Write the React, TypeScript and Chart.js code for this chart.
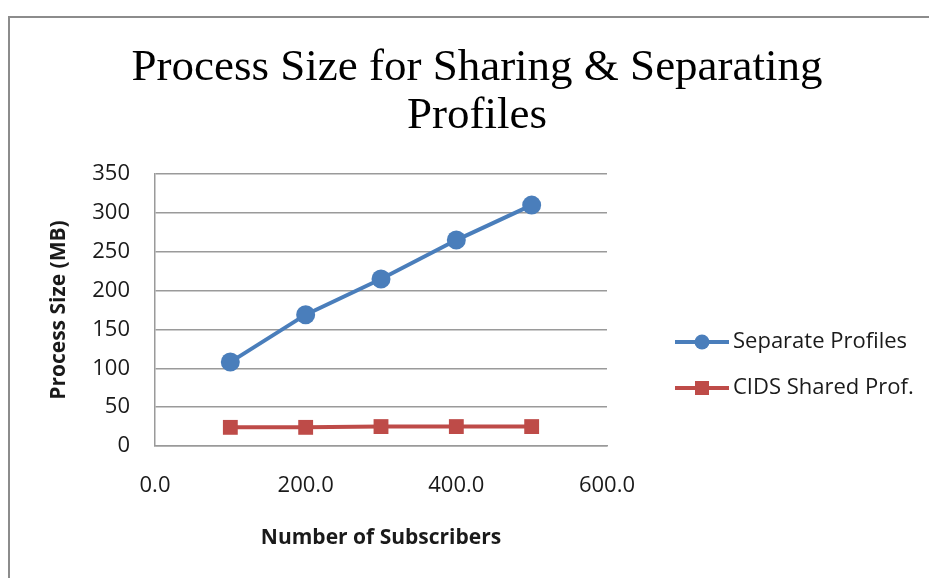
import React, { useEffect, useRef } from 'react';
import { Chart, registerables } from 'chart.js';

Chart.register(...registerables);

// ---- data ----
const subscribers = [100, 200, 300, 400, 500];
const separateProfiles = [108, 169, 215, 265, 310];
const cidsSharedProf = [24, 24, 25, 25, 25];
const seriesNames = ['Separate Profiles', 'CIDS Shared Prof.'];
const titleLines = ['Process Size for Sharing & Separating', 'Profiles'];
const xAxisTitle = 'Number of Subscribers';
const yAxisTitle = 'Process Size (MB)';
const xRange = [0, 600];
const xStep = 200;
const yRange = [0, 350];
const yStep = 50;

const BLUE = '#4A7EBB';
const RED = '#BE4B48';
const GRID = '#9a9a9a';
const TEXT = '#1a1a1a';
const SANS = '"Open Sans", "Noto Sans", sans-serif';

const framePlugin = {
  id: 'frame',
  beforeDraw(chart: any) {
    const ctx = chart.ctx;
    ctx.save();
    ctx.fillStyle = '#ffffff';
    ctx.fillRect(0, 0, chart.width, chart.height);
    ctx.strokeStyle = '#8c8c8c';
    ctx.lineWidth = 2;
    ctx.beginPath();
    ctx.moveTo(9, chart.height);
    ctx.lineTo(9, 17);
    ctx.lineTo(chart.width, 17);
    ctx.stroke();
    ctx.restore();
  },
};

const sideLegendPlugin = {
  id: 'sideLegend',
  afterDraw(chart: any) {
    const ctx = chart.ctx;
    const x0 = 675;
    const len = 54;
    const textX = 733;
    const rows = [342, 388];
    ctx.save();
    chart.data.datasets.forEach((ds: any, i: number) => {
      const y = rows[i];
      ctx.strokeStyle = ds.borderColor;
      ctx.lineWidth = ds.borderWidth;
      ctx.beginPath();
      ctx.moveTo(x0, y);
      ctx.lineTo(x0 + len, y);
      ctx.stroke();
      ctx.fillStyle = ds.pointBackgroundColor;
      const cx = x0 + len / 2;
      if (ds.pointStyle === 'rect') {
        ctx.fillRect(cx - 7, y - 7, 14, 14);
      } else {
        ctx.beginPath();
        ctx.arc(cx, y, 7.5, 0, Math.PI * 2);
        ctx.fill();
      }
      ctx.fillStyle = TEXT;
      ctx.font = `22px ${SANS}`;
      ctx.textAlign = 'left';
      ctx.textBaseline = 'middle';
      ctx.fillText(ds.label, textX, y);
    });
    ctx.restore();
  },
};

export default function App() {
  const ref = useRef<HTMLCanvasElement | null>(null);

  useEffect(() => {
    if (!ref.current) return;
    const chart = new Chart(ref.current, {
      type: 'line',
      data: {
        datasets: [
          {
            label: seriesNames[0],
            data: subscribers.map((x, i) => ({ x, y: separateProfiles[i] })),
            borderColor: BLUE,
            backgroundColor: BLUE,
            pointBackgroundColor: BLUE,
            pointBorderColor: BLUE,
            borderWidth: 4,
            pointStyle: 'circle',
            pointRadius: 9.5,
            pointBorderWidth: 0,
            tension: 0,
            clip: false,
          },
          {
            label: seriesNames[1],
            data: subscribers.map((x, i) => ({ x, y: cidsSharedProf[i] })),
            borderColor: RED,
            backgroundColor: RED,
            pointBackgroundColor: RED,
            pointBorderColor: RED,
            borderWidth: 4,
            pointStyle: 'rect',
            pointRadius: 10.5,
            pointBorderWidth: 0,
            tension: 0,
            clip: false,
          },
        ] as any,
      },
      options: {
        animation: false,
        responsive: false,
        devicePixelRatio: 1,
        events: [],
        layout: { padding: { left: 25, right: 0, top: 0, bottom: 0 } },
        plugins: {
          legend: { display: false },
          tooltip: { enabled: false },
          title: {
            display: true,
            text: titleLines,
            color: '#000',
            font: { family: '"Liberation Serif", serif', size: 45, weight: 'normal', lineHeight: 1.067 },
            padding: { top: 44, bottom: 34 },
          },
        },
        scales: {
          x: {
            type: 'linear',
            min: xRange[0],
            max: xRange[1],
            grid: { display: false, drawTicks: false, tickLength: 0 },
            border: { display: true, color: GRID, width: 1.5 },
            ticks: {
              stepSize: xStep,
              padding: 27,
              color: TEXT,
              font: { family: SANS, size: 22 },
              callback: (v: any) => Number(v).toFixed(1),
            },
            title: {
              display: true,
              text: xAxisTitle,
              color: TEXT,
              font: { family: SANS, size: 21, weight: 'bold' },
              padding: { top: 0, bottom: 27.4 },
            },
            afterFit: (s: any) => {
              s.height = 132;
            },
          },
          y: {
            type: 'linear',
            position: 'left',
            min: yRange[0],
            max: yRange[1],
            grid: { color: GRID, lineWidth: 1.5, drawTicks: false, tickLength: 0 },
            border: { display: true, color: GRID, width: 1.5 },
            ticks: {
              stepSize: yStep,
              padding: 25,
              color: TEXT,
              font: { family: SANS, size: 22 },
            },
            title: {
              display: true,
              text: yAxisTitle,
              color: TEXT,
              font: { family: SANS, size: 21, weight: 'bold' },
              padding: { top: 21.4, bottom: 0 },
            },
            afterFit: (s: any) => {
              s.width = 130;
            },
          },
          spacer: {
            type: 'linear',
            position: 'right',
            display: true,
            grid: { display: false, drawTicks: false },
            border: { display: false },
            ticks: { display: false },
            afterFit: (s: any) => {
              s.width = 322;
            },
          },
        },
      } as any,
      plugins: [framePlugin, sideLegendPlugin],
    });
    return () => chart.destroy();
  }, []);

  return (
    <canvas
      ref={ref}
      width={929}
      height={578}
      style={{ position: 'fixed', left: 0, top: 0, width: 929, height: 578, display: 'block' }}
    />
  );
}
